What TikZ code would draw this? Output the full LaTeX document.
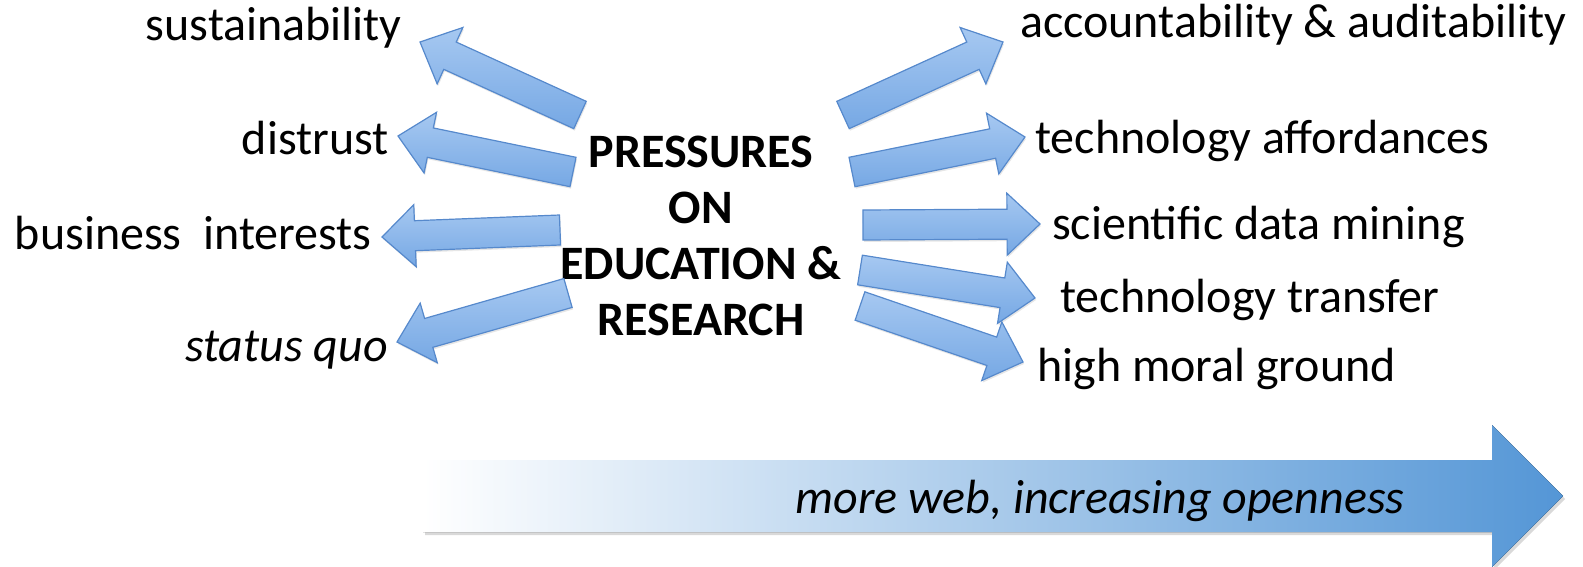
\documentclass[tikz,border=0pt]{standalone}
\usepackage{fontspec}
\setmainfont{Carlito}
\usepackage{tikz}
\usetikzlibrary{calc}
\usetikzlibrary{shadows}

\definecolor{arrowtop}{RGB}{166,200,241}
\definecolor{arrowbot}{RGB}{118,168,228}
\definecolor{arrowline}{RGB}{86,137,204}
\definecolor{openblue}{RGB}{84,150,214}

\tikzset{
  bigtext/.style={inner sep=0pt, font=\fontsize{48}{56}\selectfont},
  lefttext/.style={bigtext, anchor=base east},
  righttext/.style={bigtext, anchor=base west},
  hub/.style={bigtext, align=center, font=\fontsize{48}{56}\selectfont\bfseries},
  barrow/.style={draw=arrowline, line width=1.2pt, line join=miter,
    top color=arrowtop, bottom color=arrowbot,
    drop shadow={shadow xshift=1pt, shadow yshift=-2pt, opacity=0.2}},
}

% block arrow from #1 (tail) to #2 (tip)
\newcommand\blockarrow[2]{%
  \path ($(#2)!33pt!(#1)$) coordinate (hb);
  \draw[barrow] ($(#1)!15pt!90:(#2)$) -- ($(hb)!15pt!90:(#2)$)
    -- ($(hb)!31pt!90:(#2)$) -- (#2) -- ($(hb)!31pt!-90:(#2)$)
    -- ($(hb)!15pt!-90:(#2)$) -- ($(#1)!15pt!-90:(#2)$) -- cycle;}

\begin{document}
\begin{tikzpicture}[x=1pt,y=-1pt]
\useasboundingbox (0,0) rectangle (1583,567);

% centre
\node[hub] (pressures) at (701,236) {PRESSURES\\ON\\EDUCATION \&\\RESEARCH};

% left labels
\node[lefttext] (sust) at (402,41) {sustainability};
\node[lefttext] (distrust) at (389,155) {distrust};
\node[lefttext] (business) at (372,249) {business\ \ interests};
\node[lefttext] (statusquo) at (388,361) {\itshape status quo};

% right labels
\node[righttext] (account) at (1020,38) {accountability \& auditability};
\node[righttext] (techaff) at (1035,154) {technology affordances};
\node[righttext] (datamining) at (1052,239) {scientific data mining};
\node[righttext] (techtrans) at (1060,312) {technology transfer};
\node[righttext] (moral) at (1037,381) {high moral ground};

% arrow ends
\coordinate (sustTail) at (580,115);  \coordinate (sustTip) at (420,42);
\coordinate (distTail) at (573,172);  \coordinate (distTip) at (398,136);
\coordinate (busiTail) at (560,230);  \coordinate (busiTip) at (382,237);
\coordinate (quoTail) at (568,293);   \coordinate (quoTip) at (397,342);
\coordinate (accTail) at (843,115);   \coordinate (accTip) at (1003,42);
\coordinate (affTail) at (852,172);   \coordinate (affTip) at (1025,137);
\coordinate (mineTail) at (863,225);  \coordinate (mineTip) at (1040,224);
\coordinate (transTail) at (860,270); \coordinate (transTip) at (1035,298);
\coordinate (moralTail) at (860,306); \coordinate (moralTip) at (1023,362);

\blockarrow{sustTail}{sustTip}
\blockarrow{distTail}{distTip}
\blockarrow{busiTail}{busiTip}
\blockarrow{quoTail}{quoTip}
\blockarrow{accTail}{accTip}
\blockarrow{affTail}{affTip}
\blockarrow{mineTail}{mineTip}
\blockarrow{transTail}{transTip}
\blockarrow{moralTail}{moralTip}

% bottom arrow
\fill[left color=white, right color=openblue,
  drop shadow={shadow xshift=2pt, shadow yshift=-3pt, opacity=0.3}]
  (423,460) -- (1492,460) -- (1492,425) -- (1563,496) -- (1492,567)
  -- (1492,532) -- (423,532) -- cycle;
\node[bigtext, anchor=base, font=\fontsize{48}{56}\selectfont\itshape] (openness) at (1100,513) {more web, increasing openness};
\end{tikzpicture}
\end{document}
